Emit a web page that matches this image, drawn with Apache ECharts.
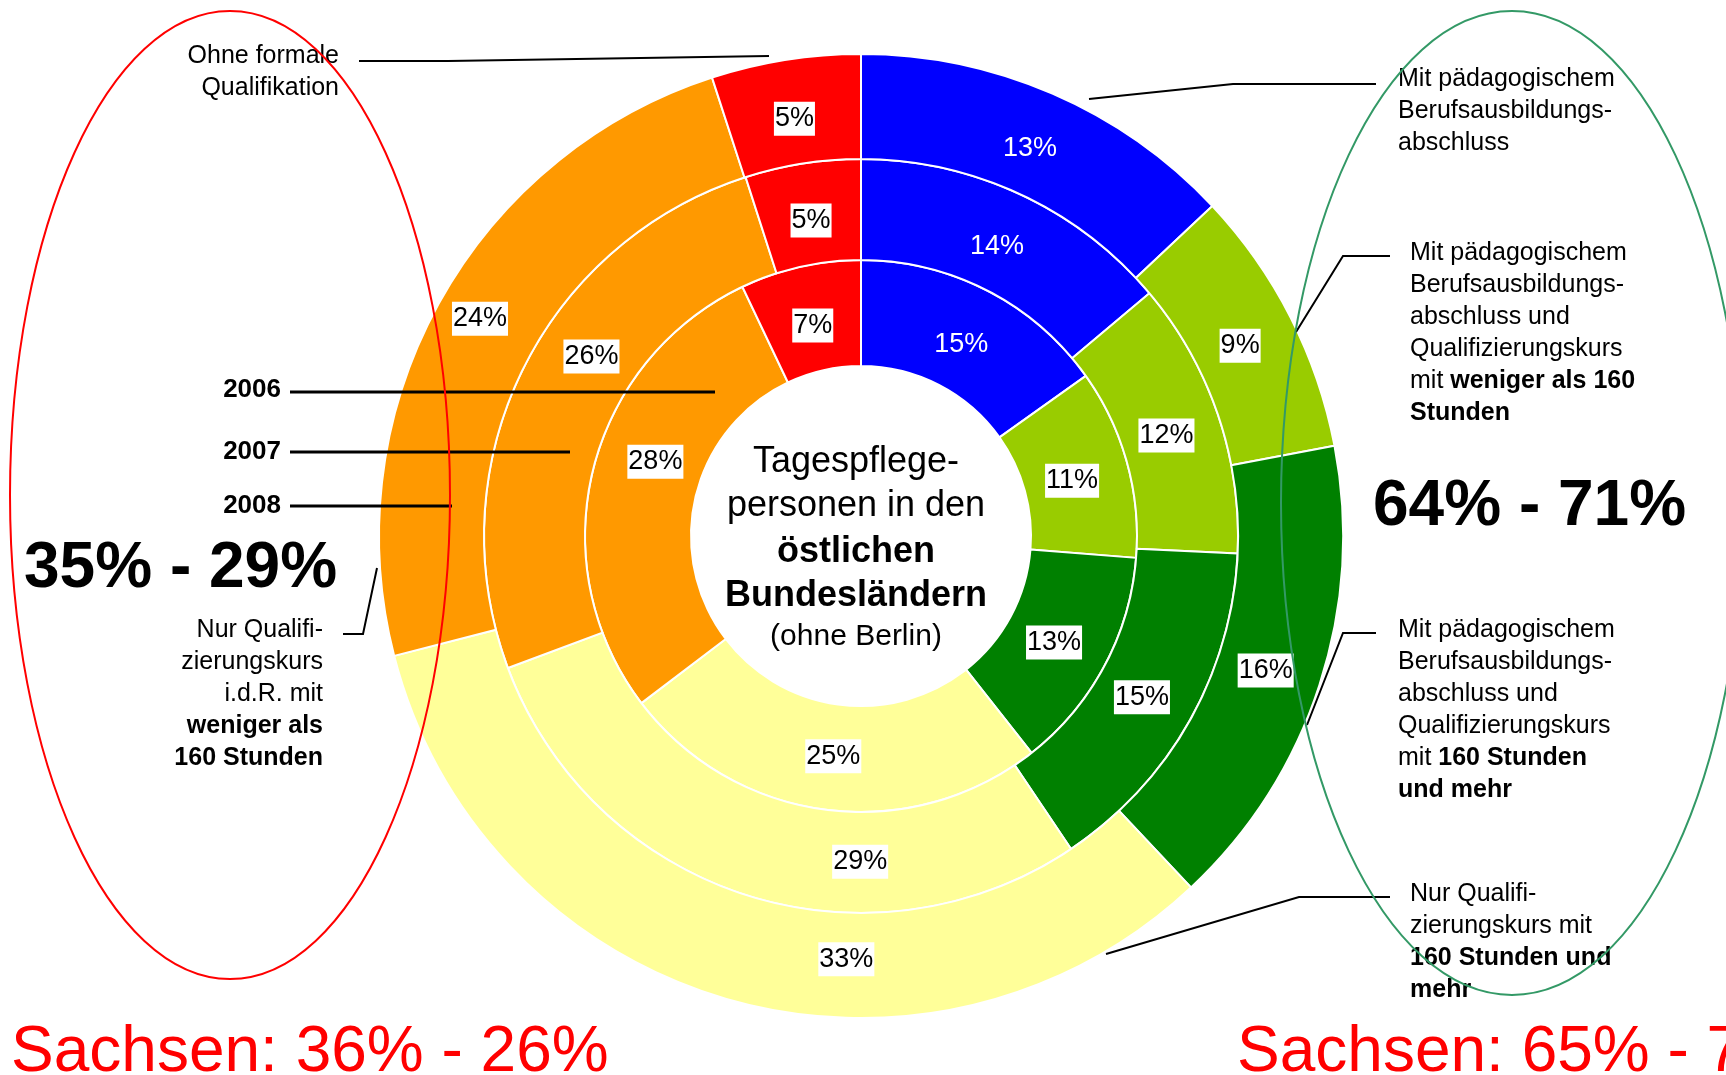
<!DOCTYPE html>
<html>
<head>
    <meta charset="utf-8">
    <title>Tagespflegepersonen in den östlichen Bundesländern</title>
    <script src="https://cdn.jsdelivr.net/npm/echarts@6/dist/echarts.min.js"></script>
    <style>
        html, body {
            margin: 0;
            padding: 0;
            background: #ffffff;
        }
        #main {
            width: 1726px;
            height: 1075px;
        }
    </style>
</head>
<body>
    <div id="main"></div>
    <script type="text/javascript">
    // Anteile in %, im Uhrzeigersinn ab 12 Uhr
    var categories = [
        'Mit pädagogischem Berufsausbildungsabschluss',
        'Berufsausbildungsabschluss und Qualifizierungskurs mit weniger als 160 Stunden',
        'Berufsausbildungsabschluss und Qualifizierungskurs mit 160 Stunden und mehr',
        'Nur Qualifizierungskurs mit 160 Stunden und mehr',
        'Nur Qualifizierungskurs i.d.R. mit weniger als 160 Stunden',
        'Ohne formale Qualifikation'
    ];
    var years = ['2006', '2007', '2008'];
    var values2006 = [15, 11, 13, 25, 28, 7];
    var values2007 = [14, 12, 15, 29, 26, 5];
    var values2008 = [13, 9, 16, 33, 24, 5];
    var colors = ['#0000ff', '#99cc00', '#008000', '#ffff99', '#ff9900', '#ff0000'];

    var FONT = 'Liberation Sans, Arial, sans-serif';
    var CX = 861, CY = 536;

    var myChart = echarts.init(document.getElementById('main'));

    // Ringe: innen 2006, Mitte 2007, aussen 2008
    var rings = [[170, 276], [276, 377], [377, 482]];
    var allValues = [values2006, values2007, values2008];

    // Excel hatte einige Beschriftungen verschoben
    var labelNudge = { '0-4': [14, -21], '1-4': [27, -36], '2-4': [-2, -9], '1-3': [100, 12], '2-3': [106, 8] };

    function makeSeries(idx) {
        var vals = allValues[idx];
        var data = [];
        for (var i = 0; i < vals.length; i++) {
            data.push({
                name: categories[i],
                value: vals[i],
                itemStyle: { color: colors[i] },
                label: i === 0
                    ? { color: '#ffffff', backgroundColor: 'transparent' }
                    : { color: '#000000', backgroundColor: '#ffffff' }
            });
        }
        return {
            type: 'pie',
            name: years[idx],
            center: [CX, CY],
            radius: rings[idx],
            startAngle: 90,
            clockwise: true,
            avoidLabelOverlap: false,
            silent: true,
            itemStyle: { borderColor: '#ffffff', borderWidth: 2 },
            label: {
                show: true,
                position: 'inside',
                formatter: '{c}%',
                fontFamily: FONT,
                fontSize: 27,
                padding: [4, 1, 3, 1]
            },
            labelLine: { show: false },
            labelLayout: function (p) {
                var n = labelNudge[idx + '-' + p.dataIndex];
                if (n) return { dx: n[0], dy: n[1] };
                // etwas zur Mitte hin, wie in Excel
                var r = p.labelRect;
                var mx = r.x + r.width / 2 - CX, my = r.y + r.height / 2 - CY;
                var d = Math.sqrt(mx * mx + my * my) || 1;
                return { dx: -7 * mx / d, dy: -7 * my / d + 3 };
            },
            data: data
        };
    }

    function txt(x, y, text, opt) {
        var style = {
            x: x, y: y, text: text,
            fill: opt.fill || '#000000',
            fontFamily: FONT,
            fontSize: opt.size || 25,
            fontWeight: opt.weight || 'normal',
            lineHeight: opt.lh || 32,
            align: opt.align || 'left',
            textAlign: opt.align || 'left',
            verticalAlign: opt.va || 'top',
            textVerticalAlign: opt.va || 'top'
        };
        if (opt.rich) style.rich = opt.rich;
        return { type: 'text', z: 10, style: style };
    }

    function leader(points, w) {
        return {
            type: 'polyline', z: 10,
            shape: { points: points },
            style: { stroke: '#000000', lineWidth: w || 2, fill: null }
        };
    }

    var boldRich = { b: { fontFamily: FONT, fontSize: 25, fontWeight: 'bold', lineHeight: 32 } };

    option = {
        backgroundColor: '#ffffff',
        animation: false,
        series: [makeSeries(0), makeSeries(1), makeSeries(2)],
        graphic: [
            // Mitte
            txt(856, 440, 'Tagespflege-\npersonen in den', { size: 36, lh: 44, align: 'center' }),
            txt(856, 530, 'östlichen\nBundesländern', { size: 36, lh: 44, align: 'center', weight: 'bold' }),
            txt(856, 637, '(ohne Berlin)', { size: 30, align: 'center', va: 'middle' }),

            // links
            txt(339, 40, 'Ohne formale\nQualifikation', { align: 'right' }),
            leader([[359, 61], [448, 61], [769, 56]]),
            txt(281, 390, '2006', { size: 26, weight: 'bold', align: 'right', va: 'middle' }),
            txt(281, 452, '2007', { size: 26, weight: 'bold', align: 'right', va: 'middle' }),
            txt(281, 506, '2008', { size: 26, weight: 'bold', align: 'right', va: 'middle' }),
            leader([[290, 392], [715, 392]], 3),
            leader([[290, 452], [570, 452]], 3),
            leader([[290, 506], [452, 506]], 3),
            txt(24, 569, '35% - 29%', { size: 64, weight: 'bold', va: 'middle' }),
            txt(323, 614, 'Nur Qualifi-\nzierungskurs\ni.d.R. mit\n{b|weniger als}\n{b|160 Stunden}', { align: 'right', rich: boldRich }),
            leader([[343, 634], [363, 634], [377, 568]]),

            // rechts
            txt(1398, 63, 'Mit pädagogischem\nBerufsausbildungs-\nabschluss', {}),
            leader([[1376, 84], [1233, 84], [1089, 99]]),
            txt(1410, 237, 'Mit pädagogischem\nBerufsausbildungs-\nabschluss und\nQualifizierungskurs\nmit {b|weniger als 160}\n{b|Stunden}', { rich: boldRich }),
            leader([[1390, 256], [1343, 256], [1296, 332]]),
            txt(1373, 507, '64% - 71%', { size: 64, weight: 'bold', va: 'middle' }),
            txt(1398, 614, 'Mit pädagogischem\nBerufsausbildungs-\nabschluss und\nQualifizierungskurs\nmit {b|160 Stunden}\n{b|und mehr}', { rich: boldRich }),
            leader([[1376, 633], [1343, 633], [1307, 725]]),
            txt(1410, 878, 'Nur Qualifi-\nzierungskurs mit\n{b|160 Stunden und}\n{b|mehr}', { rich: boldRich }),
            leader([[1390, 897], [1299, 897], [1106, 954]]),

            // Ovale
            {
                type: 'ellipse', z: 20,
                shape: { cx: 230, cy: 495, rx: 220, ry: 484 },
                style: { fill: null, stroke: '#ff0000', lineWidth: 2 }
            },
            {
                type: 'ellipse', z: 20,
                shape: { cx: 1512, cy: 503, rx: 231, ry: 492 },
                style: { fill: null, stroke: '#339966', lineWidth: 2 }
            },

            // Sachsen
            txt(11, 1053, 'Sachsen: 36% - 26%', { size: 64, fill: '#ff0000', va: 'middle' }),
            txt(1237, 1053, 'Sachsen: 65% - 74%', { size: 64, fill: '#ff0000', va: 'middle' })
        ]
    };

    myChart.setOption(option);
    </script>
</body>
</html>
